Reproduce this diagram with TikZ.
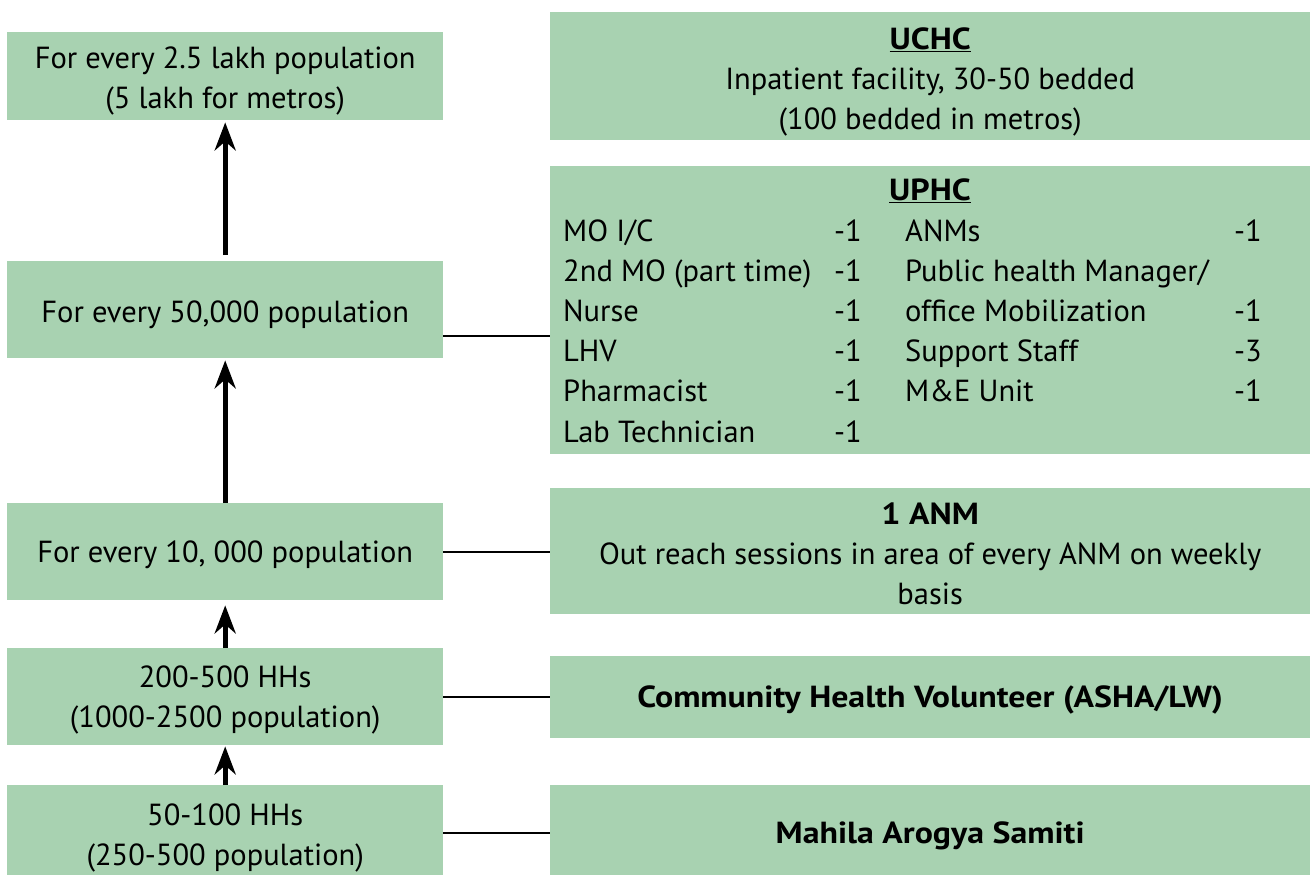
\documentclass[tikz,border=0pt]{standalone}
\usepackage{fontspec}
\setmainfont{PT Sans}[BoldFeatures={FakeStretch=1.11}]
\usetikzlibrary{arrows.meta}
\definecolor{boxgreen}{HTML}{A8D2B1}
\begin{document}
\begin{tikzpicture}[x=1pt,y=-1pt,
  box/.style={fill=boxgreen, draw=none, anchor=north west, inner sep=0pt},
  lbox/.style={box, minimum width=436pt},
  rbox/.style={box, minimum width=760pt},
  txt/.style={inner sep=0pt, align=center, font=\fontsize{30.5}{40}\selectfont},
  up/.style={line width=5pt, -{Stealth[length=28pt,width=21pt,inset=9pt]}},
  link/.style={line width=2pt}]
\useasboundingbox (0,0) rectangle (1310,875);
% left column
\node[lbox, minimum height=88pt] (b1) at (7,32) {};
\node[lbox, minimum height=97pt] (b2) at (7,261) {};
\node[lbox, minimum height=97pt] (b3) at (7,503) {};
\node[lbox, minimum height=97pt] (b4) at (7,648) {};
\node[lbox, minimum height=95pt] (b5) at (7,785) {};
\node[txt] (b1t) at ([yshift=-5pt]b1.center) {For every 2.5 lakh population\\(5 lakh for metros)};
\node[txt] (b2t) at ([yshift=-5pt]b2.center) {For every 50,000 population};
\node[txt] (b3t) at ([yshift=-3pt]b3.center) {For every 10, 000 population};
\node[txt] (b4t) at ([yshift=-3pt]b4.center) {200-500 HHs\\(1000-2500 population)};
\node[txt] (b5t) at ([yshift=-5pt]b5.center) {50-100 HHs\\(250-500 population)};
% right column
\node[rbox, minimum height=128pt] (r1) at (550,12) {};
\node[rbox, minimum height=288pt] (r2) at (550,166) {};
\node[rbox, minimum height=126pt] (r3) at (550,488) {};
\node[rbox, minimum height=82pt] (r4) at (550,656) {};
\node[rbox, minimum height=95pt] (r5) at (550,785) {};
\node[txt] (r1t) at ([yshift=-6pt]r1.center) {\underline{\textbf{UCHC}}\\Inpatient facility, 30-50 bedded\\(100 bedded in metros)};
\node[txt] (r3t) at ([yshift=-3pt]r3.center) {\textbf{1 ANM}\\Out reach sessions in area of every ANM on weekly\\basis};
\node[txt] (r4t) at ([yshift=-3pt]r4.center) {\textbf{Community Health Volunteer (ASHA/LW)}};
\node[txt] (r5t) at ([yshift=-3pt]r5.center) {\textbf{Mahila Arogya Samiti}};
% UPHC contents
\node[txt, anchor=base] (uphc) at (930,200) {\underline{\textbf{UPHC}}};
\foreach \t/\v [count=\i] in {{MO I/C}/-1, {2nd MO (part time)}/-1, {Nurse}/-1, {LHV}/-1, {Pharmacist}/-1, {Lab Technician}/-1}{
  \node[txt, anchor=base west] (l\i) at (563,{241+40.2*(\i-1)}) {\t};
  \node[txt, anchor=base east] (lv\i) at (862,{241+40.2*(\i-1)}) {\v};
}
\foreach \t [count=\i] in {{ANMs}, {Public health Manager/}, {office Mobilization}, {Support Staff}, {M\&E Unit}}{
  \node[txt, anchor=base west] (m\i) at (905,{241+40.2*(\i-1)}) {\t};
}
\foreach \v/\i in {-1/1, -1/3, -3/4, -1/5}{
  \node[txt, anchor=base east] (mv\i) at (1262,{241+40.2*(\i-1)}) {\v};
}
% arrows
\draw[up] ([yshift=6pt]b2.north) -- ([yshift=-2pt]b1.south);
\draw[up] (b3.north) -- ([yshift=-2pt]b2.south);
\draw[up] (b4.north) -- ([yshift=-5pt]b3.south);
\draw[up] (b5.north) -- ([yshift=-1pt]b4.south);
% links
\draw[link] ([yshift=-26.5pt]b2.east) -- ([yshift=-26.5pt]b2.east -| r2.west);
\draw[link] (b3.east) -- (b3.east -| r3.west);
\draw[link] (b4.east) -- (b4.east -| r4.west);
\draw[link] (b5.east) -- (b5.east -| r5.west);
\end{tikzpicture}
\end{document}
